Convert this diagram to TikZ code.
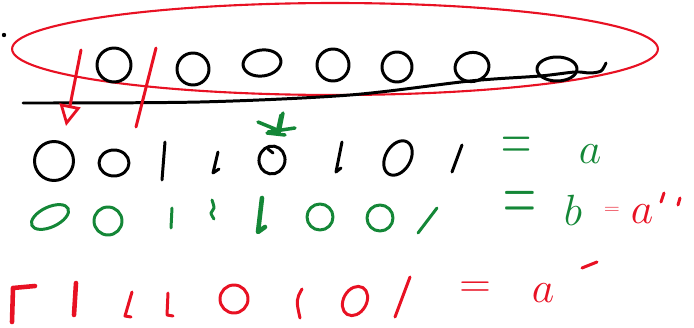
\documentclass[tikz,border=0pt]{standalone}
\usetikzlibrary{arrows.meta,positioning,shapes.geometric}
\definecolor{inkred}{RGB}{232,17,35}
\definecolor{inkgreen}{RGB}{20,135,55}

\begin{document}
\begin{tikzpicture}[x=0.02cm,y=-0.02cm,line cap=round,line join=round,
pen/.style={line width=1.7pt},
zero/.style 2 args={ellipse,draw,pen,inner sep=0pt,minimum width=#1*0.02cm,minimum height=#2*0.02cm},
hw/.style={inner sep=0pt,font=\fontsize{#1}{#1}\selectfont}]
\useasboundingbox (0,0) rectangle (694,328);

% top row, circled
\node[circle,fill,inner sep=0pt,minimum size=2.5pt] (dot) at (4,35) {};
\node[ellipse,draw=inkred,line width=1.2pt,minimum width=12.92cm,minimum height=1.84cm] (grp) at (335,49) {};
\node[zero={34}{34}] (Z1) at (114,65) {};
\node[zero={32}{32}] (Z2) at (193,69) {};
\node[zero={38}{26},rotate=8] (Z3) at (262,63) {};
\node[zero={32}{32}] (Z4) at (333,65) {};
\node[zero={30}{30}] (Z5) at (397,67) {};
\node[zero={34}{29},rotate=10] (Z6) at (472,67) {};
\node[zero={40}{24}] (Z7) at (557,69) {};
\draw[pen] plot[smooth] coordinates {(23,103) (200,102) (350,95) (470,81) (540,76) (575,72) (590,73) (601,71) (606,63)};

% cut marks
\coordinate (cutA) at (81,50);
\coordinate (cutB) at (66,126);
\draw[inkred,pen,-{Triangle[open,length=12pt,width=12pt,line width=1.6pt]}] (cutA) -- (cutB);
\coordinate (slashA) at (156,48);
\coordinate (slashB) at (136,127);
\draw[inkred,pen] (slashA) -- (slashB);

% green mark
\draw[inkgreen,line width=2pt] (283,113) -- (279,133) (281,115) -- (277,133)
  (258,122) -- (275,129) (268,132) -- (295,128) (267,133) -- (285,135);

% row a
\node[zero={39}{39}] (A1) at (54,161) {};
\node[zero={30}{26}] (A2) at (114,163) {};
\draw[pen] (165,142) -- (162,180);
\draw[pen] (218,152) -- (213,173) -- (219,169);
\node[zero={26}{28},rotate=-10] (A3) at (272,160) {};
\draw[pen] (268,149) -- (273,153);
\draw[pen] (342,142) -- (336,172) -- (341,168);
\node[zero={25}{37},rotate=-30] (A4) at (398,158) {};
\draw[pen] (462,145) -- (452,172);
\node[hw=22,text=inkgreen] (eqA) at (517,149) {\scalebox{1.15}[1.8]{$=$}};
\node[hw=40,text=inkgreen] (lblA) at (590,154) {$a$};

% row b
\node[zero={40}{20},draw=inkgreen,rotate=25] (B1) at (50,217) {};
\node[zero={28}{28},draw=inkgreen] (B2) at (108,221) {};
\draw[inkgreen,pen] (172,208) -- (171,228);
\draw[inkgreen,pen] plot[smooth] coordinates {(212,200) (214,208) (211,213) (214,219)};
\draw[inkgreen,line width=2.6pt] (262,198) -- (258,232) -- (265,227);
\node[zero={26}{26},draw=inkgreen] (B3) at (320,217) {};
\node[zero={26}{26},draw=inkgreen] (B4) at (380,218) {};
\draw[inkgreen,pen] (437,208) -- (418,233);
\node[hw=22,text=inkgreen] (eqB) at (520,207) {\scalebox{1.25}[2.4]{$=$}};
\node[hw=32,text=inkgreen] (lblB) at (573,210) {$b$};
\node[hw=12,text=inkred] (eqC) at (612,210) {\scalebox{1}[0.8]{$=$}};
\node[hw=36,text=inkred] (lblC) at (642,214) {$a$};
\draw[inkred,pen] (664,193) -- (661,202) (680,198) -- (678,205);

% row a'
\draw[inkred,line width=2.6pt] (12,322) -- (13,288) -- (35,286);
\draw[inkred,line width=2.6pt] (76,283) -- (74,315);
\draw[inkred,pen] (132,292) -- (125,316) -- (131,317);
\draw[inkred,pen] (168,293) -- (167,315) -- (173,316);
\node[zero={28}{28},draw=inkred] (C1) at (234,299) {};
\draw[inkred,pen] (302,289) .. controls (296,300) .. (300,318);
\node[zero={23}{31},draw=inkred,rotate=-30] (C2) at (355,301) {};
\draw[inkred,pen] (410,277) -- (395,317);
\node[hw=24,text=inkred] (eqD) at (475,290) {$=$};
\node[hw=38,text=inkred] (lblD) at (543,293) {$a$};
\draw[inkred,pen] (582,268) -- (597,262);
\end{tikzpicture}
\end{document}
